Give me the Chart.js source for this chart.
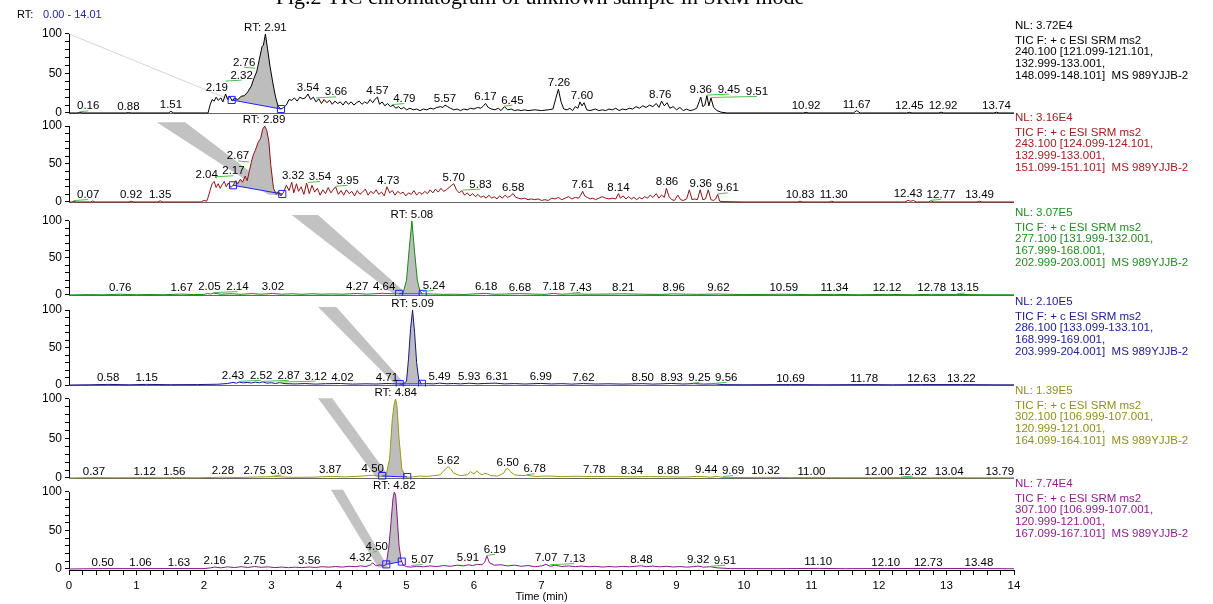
<!DOCTYPE html>
<html>
<head>
<meta charset="utf-8">
<script src="https://cdn.jsdelivr.net/npm/chart.js@4.4.1/dist/chart.umd.min.js"></script>
<style>
  html, body { margin: 0; padding: 0; background: #fff; }
</style>
</head>
<body>
<canvas id="myChart" width="1213" height="604"></canvas>
<script>
// ---- data: [time (min), relative abundance (%)] ----
const trace240 = [[0,0],[0.12,0],[0.16,0.8],[0.2,0],[0.84,0],[0.88,0.5],[0.92,0],[1.47,0],[1.51,2],[1.55,0],[2.06,0],[2.09,10],[2.12,17],[2.15,15],[2.18,20],[2.21,16],[2.25,19],[2.28,14],[2.32,24],[2.35,17],[2.38,21],[2.42,15],[2.45,19],[2.5,17],[2.55,21],[2.6,22],[2.65,27],[2.7,34],[2.74,44],[2.78,52],[2.82,68],[2.86,84],[2.88,86],[2.91,100],[2.94,82],[2.98,58],[3.02,38],[3.06,20],[3.1,8],[3.14,5],[3.18,7],[3.22,10],[3.26,17],[3.3,16],[3.34,19],[3.38,15],[3.42,20],[3.46,18],[3.5,19],[3.54,24],[3.58,17],[3.62,20],[3.66,14],[3.7,18],[3.74,12],[3.78,17],[3.82,13],[3.86,16],[3.9,11],[3.94,15],[3.98,12],[4.02,14],[4.06,10],[4.1,15],[4.14,11],[4.18,14],[4.22,10],[4.26,13],[4.3,15],[4.34,11],[4.38,14],[4.42,12],[4.46,17],[4.5,13],[4.54,18],[4.57,20],[4.6,11],[4.64,14],[4.68,9],[4.72,12],[4.76,8],[4.8,10],[4.84,6],[4.88,8],[4.92,5],[4.96,7],[5.0,4],[5.05,6],[5.1,4],[5.15,5],[5.2,3],[5.25,5],[5.3,4],[5.35,6],[5.4,5],[5.45,7],[5.5,8],[5.54,7],[5.57,10],[5.61,8],[5.65,6],[5.7,4],[5.75,5],[5.8,3],[5.85,5],[5.9,4],[5.95,6],[6.0,5],[6.05,7],[6.1,6],[6.14,9],[6.17,12],[6.21,7],[6.26,5],[6.31,4],[6.36,6],[6.4,3],[6.45,8],[6.5,4],[6.55,5],[6.6,3],[6.65,4],[6.7,3],[6.75,4],[6.8,3],[6.9,4],[7.0,3],[7.1,4],[7.17,5],[7.21,18],[7.25,30],[7.29,14],[7.33,5],[7.38,4],[7.42,6],[7.46,3],[7.5,8],[7.54,6],[7.57,14],[7.6,9],[7.63,13],[7.67,4],[7.72,3],[7.8,5],[7.85,3],[7.9,4],[7.95,3],[8.0,5],[8.05,4],[8.1,6],[8.15,3],[8.2,5],[8.25,4],[8.3,6],[8.35,5],[8.4,8],[8.45,6],[8.5,9],[8.55,7],[8.6,10],[8.65,8],[8.7,12],[8.74,7],[8.78,15],[8.82,9],[8.86,13],[8.9,6],[8.95,8],[9.0,4],[9.05,7],[9.1,3],[9.15,5],[9.2,3],[9.25,4],[9.3,6],[9.36,20],[9.39,8],[9.42,10],[9.45,22],[9.48,9],[9.51,19],[9.55,7],[9.6,3],[9.66,1],[9.75,0],[10.88,0],[10.92,0.8],[10.96,0],[11.62,0],[11.67,3],[11.72,0],[12.41,0],[12.45,0.8],[12.49,0],[12.88,0],[12.92,1],[12.96,0],[13.7,0],[13.74,1],[13.78,0],[14,0]];

const trace243 = [[0,0],[0.04,0],[0.07,1],[0.11,0],[0.32,0],[0.35,1.2],[0.39,0],[0.89,0],[0.92,1],[0.96,0],[1.31,0],[1.35,1.5],[1.39,0],[1.96,0],[2.0,2],[2.04,1],[2.06,6],[2.09,15],[2.12,24],[2.15,27],[2.18,19],[2.21,24],[2.24,18],[2.27,23],[2.3,27],[2.33,20],[2.36,25],[2.4,19],[2.43,22],[2.47,28],[2.5,24],[2.54,30],[2.57,26],[2.61,34],[2.64,28],[2.67,40],[2.7,52],[2.73,62],[2.76,68],[2.8,78],[2.84,84],[2.87,96],[2.9,100],[2.93,94],[2.96,80],[2.99,48],[3.03,18],[3.07,10],[3.1,14],[3.14,8],[3.18,13],[3.22,22],[3.26,15],[3.3,26],[3.33,12],[3.37,24],[3.4,14],[3.44,20],[3.48,10],[3.52,25],[3.56,11],[3.6,22],[3.64,13],[3.68,18],[3.72,9],[3.76,16],[3.8,11],[3.84,19],[3.88,12],[3.92,17],[3.95,20],[3.99,10],[4.03,15],[4.07,9],[4.11,16],[4.15,11],[4.19,14],[4.23,8],[4.27,15],[4.31,10],[4.35,13],[4.39,17],[4.43,9],[4.47,14],[4.51,11],[4.55,16],[4.59,10],[4.63,13],[4.67,8],[4.71,20],[4.75,12],[4.79,15],[4.83,9],[4.87,14],[4.91,11],[4.95,13],[4.99,8],[5.03,12],[5.07,10],[5.11,15],[5.15,9],[5.19,13],[5.23,10],[5.27,14],[5.31,11],[5.35,16],[5.39,12],[5.43,17],[5.47,13],[5.51,18],[5.55,14],[5.59,16],[5.63,19],[5.67,22],[5.7,24],[5.74,16],[5.78,12],[5.82,15],[5.86,9],[5.9,12],[5.94,8],[5.98,11],[6.02,7],[6.06,10],[6.1,6],[6.14,8],[6.18,5],[6.22,9],[6.26,5],[6.3,7],[6.34,4],[6.38,8],[6.42,5],[6.46,9],[6.5,6],[6.54,8],[6.58,11],[6.62,6],[6.66,5],[6.7,4],[6.75,5],[6.8,3],[6.85,4],[6.9,3],[6.95,4],[7.0,2],[7.05,3],[7.1,2],[7.15,5],[7.2,4],[7.25,6],[7.3,3],[7.35,5],[7.4,7],[7.45,4],[7.5,6],[7.55,5],[7.58,9],[7.61,14],[7.64,8],[7.68,6],[7.72,4],[7.76,5],[7.8,3],[7.85,5],[7.9,7],[7.95,5],[8.0,4],[8.05,5],[8.1,4],[8.14,11],[8.17,5],[8.21,8],[8.25,4],[8.29,7],[8.33,4],[8.37,6],[8.41,3],[8.45,6],[8.49,4],[8.53,7],[8.57,5],[8.61,9],[8.65,6],[8.7,11],[8.74,5],[8.78,9],[8.82,6],[8.85,18],[8.89,7],[8.93,3],[8.97,2],[9.02,9],[9.06,3],[9.1,2],[9.15,4],[9.19,16],[9.23,3],[9.27,4],[9.31,3],[9.35,16],[9.39,3],[9.43,4],[9.47,16],[9.51,3],[9.55,2],[9.58,4],[9.61,10],[9.64,1],[9.7,0.5],[10.0,0],[10.79,0],[10.83,1],[10.87,0],[11.26,0],[11.3,1],[11.34,0],[12.38,0],[12.43,2],[12.47,1],[12.51,2],[12.55,0],[12.73,0],[12.77,1.5],[12.81,0],[13.45,0],[13.49,1],[13.53,0],[14,0]];

const trace277 = [[0,0],[0.3,0.5],[0.5,0.2],[0.76,1],[1.0,0.3],[1.2,0.6],[1.4,0.3],[1.67,1.2],[1.85,0.5],[2.0,0.8],[2.05,2],[2.1,1.2],[2.14,2.5],[2.25,1.0],[2.4,1.6],[2.55,0.9],[2.7,1.8],[2.85,1.0],[3.02,2],[3.15,1.0],[3.3,1.6],[3.45,0.9],[3.6,1.6],[3.75,1.0],[3.9,1.4],[4.05,1.0],[4.27,2],[4.4,1.1],[4.5,1.5],[4.64,2.2],[4.8,1.6],[4.9,1.5],[4.95,3],[5.0,20],[5.04,62],[5.08,100],[5.12,58],[5.16,20],[5.2,5],[5.24,1.5],[5.4,1.2],[5.55,0.8],[5.7,1.0],[5.85,0.7],[6.0,1.4],[6.18,2],[6.3,0.9],[6.45,1.2],[6.68,1.8],[6.9,1.1],[7.05,0.8],[7.18,2],[7.3,1.0],[7.43,1.5],[7.7,1.0],[8.0,1.2],[8.21,1.5],[8.5,1.0],[8.75,0.7],[8.96,1.4],[9.3,0.8],[9.62,1.2],[10.0,0.5],[10.59,1],[11.0,0.4],[11.34,0.8],[11.7,0.3],[12.12,0.8],[12.5,0.3],[12.78,0.8],[13.15,0.7],[13.6,0.3],[14,0.3]];

const trace286 = [[0,0],[0.3,0.3],[0.58,0.8],[0.9,0.3],[1.15,0.8],[1.5,0.4],[1.9,0.6],[2.2,1.0],[2.35,2.0],[2.43,3.5],[2.48,2.4],[2.52,4.0],[2.58,2.8],[2.64,3.5],[2.7,2.6],[2.76,3.8],[2.82,3.0],[2.87,4.2],[2.93,2.5],[3.0,3.0],[3.06,2.0],[3.12,3.2],[3.2,1.8],[3.35,1.4],[3.5,1.9],[3.65,1.2],[3.8,1.7],[4.02,2.0],[4.2,1.2],[4.4,1.6],[4.55,1.3],[4.71,2.0],[4.85,1.5],[4.95,1.2],[5.0,5],[5.03,35],[5.06,75],[5.09,100],[5.12,70],[5.15,30],[5.18,8],[5.22,1.5],[5.3,1.8],[5.4,1.5],[5.49,2.5],[5.6,1.6],[5.7,2.0],[5.8,1.5],[5.93,2.4],[6.05,1.6],[6.15,2.0],[6.31,2.5],[6.45,1.5],[6.6,1.9],[6.75,1.3],[6.99,2.1],[7.15,1.4],[7.3,1.8],[7.45,1.2],[7.62,1.9],[7.8,1.3],[8.0,1.6],[8.2,1.2],[8.35,1.5],[8.5,1.8],[8.65,1.2],[8.8,1.6],[8.93,2.0],[9.1,1.3],[9.25,1.8],[9.4,1.2],[9.56,1.5],[9.7,0.5],[10.0,0.3],[10.69,0.6],[11.2,0.3],[11.78,0.6],[12.2,0.3],[12.63,0.6],[13.22,0.6],[13.7,0.3],[14,0.2]];

const trace302 = [[0,0],[0.37,0.5],[0.7,0.3],[1.12,0.5],[1.4,0.3],[1.56,0.5],[1.9,0.3],[2.28,1.0],[2.5,0.6],[2.75,1.2],[2.9,1.5],[3.03,1.8],[3.3,0.8],[3.6,1.0],[3.87,2.0],[4.1,1.5],[4.3,2.2],[4.5,3.5],[4.62,2.0],[4.7,4],[4.75,25],[4.79,75],[4.82,95],[4.84,100],[4.86,90],[4.89,50],[4.93,12],[4.98,2],[5.02,1],[5.1,1.5],[5.2,2.5],[5.3,2.0],[5.4,3.0],[5.5,4.0],[5.56,10],[5.6,13],[5.62,14],[5.65,12],[5.7,6],[5.8,3],[5.9,4],[5.95,8],[6.0,5],[6.04,9],[6.08,6],[6.12,4],[6.16,6],[6.2,5],[6.25,3],[6.35,2.5],[6.44,6],[6.47,11],[6.5,12],[6.54,8],[6.6,4],[6.7,3],[6.78,3.5],[6.9,2.0],[7.1,2.5],[7.3,1.8],[7.5,2.2],[7.78,1.8],[8.0,2.0],[8.34,1.5],[8.6,1.8],[8.88,1.5],[9.1,1.2],[9.3,2.0],[9.44,1.5],[9.5,1.0],[9.6,2.0],[9.69,0.8],[9.9,0.6],[10.32,0.8],[10.7,0.5],[11.0,0.5],[11.5,0.4],[12.0,0.4],[12.32,0.5],[12.7,0.3],[13.04,0.4],[13.4,0.3],[13.79,0.3],[14,0.2]];

const trace307 = [[0,0],[0.5,0.5],[1.06,0.5],[1.63,0.6],[2.0,0.5],[2.1,1.5],[2.16,2.5],[2.25,1.5],[2.35,2.8],[2.45,1.8],[2.55,3.0],[2.65,2.0],[2.75,3.2],[2.85,2.2],[2.95,2.8],[3.05,1.8],[3.15,2.5],[3.25,1.7],[3.35,2.4],[3.45,1.8],[3.56,2.6],[3.65,2.0],[3.75,3.0],[3.85,2.4],[3.95,3.2],[4.05,2.5],[4.15,3.5],[4.25,3.0],[4.32,4.0],[4.4,3.2],[4.46,5.0],[4.5,8.0],[4.55,4.0],[4.6,5.5],[4.66,4.0],[4.7,6.0],[4.74,30],[4.77,60],[4.8,92],[4.82,100],[4.84,95],[4.86,70],[4.89,30],[4.92,12],[4.95,5],[5.0,3.0],[5.07,2.5],[5.15,3.5],[5.25,2.8],[5.35,4.0],[5.45,3.2],[5.55,4.5],[5.65,3.5],[5.75,5.0],[5.85,4.0],[5.91,5.5],[5.98,4.5],[6.05,6.0],[6.12,5.5],[6.16,9],[6.19,17],[6.23,8],[6.3,5.0],[6.4,5.5],[6.5,4.0],[6.6,5.0],[6.7,3.5],[6.8,4.5],[6.9,3.0],[7.0,4.0],[7.07,6.0],[7.13,3.5],[7.2,5.0],[7.3,3.2],[7.4,4.0],[7.5,3.0],[7.6,3.8],[7.7,2.8],[7.8,3.5],[7.9,2.5],[8.0,3.2],[8.1,2.6],[8.2,3.4],[8.3,2.8],[8.4,3.6],[8.48,4.2],[8.55,3.0],[8.65,3.8],[8.75,2.8],[8.85,3.5],[8.95,2.6],[9.05,3.2],[9.15,2.4],[9.25,3.0],[9.32,3.8],[9.4,2.4],[9.5,3.0],[9.6,1.5],[9.8,0.5],[10.5,0.4],[11.1,0.8],[11.5,0.4],[12.1,0.6],[12.73,0.6],[13.48,0.6],[14,0.3]];

// labelled peak retention times
const peaks240 = [0.16, 0.88, 1.51, 2.19, 2.32, 2.76, 3.54, 3.66, 4.57, 4.79, 5.57, 6.17, 6.45, 7.26, 7.60, 8.76, 9.36, 9.45, 9.51, 10.92, 11.67, 12.45, 12.92, 13.74];
const peaks243 = [0.07, 0.92, 1.35, 2.04, 2.17, 2.67, 3.32, 3.54, 3.95, 4.73, 5.70, 5.83, 6.58, 7.61, 8.14, 8.86, 9.36, 9.61, 10.83, 11.30, 12.43, 12.77, 13.49];
const peaks277 = [0.76, 1.67, 2.05, 2.14, 3.02, 4.27, 4.64, 5.24, 6.18, 6.68, 7.18, 7.43, 8.21, 8.96, 9.62, 10.59, 11.34, 12.12, 12.78, 13.15];
const peaks286 = [0.58, 1.15, 2.43, 2.52, 2.87, 3.12, 4.02, 4.71, 5.49, 5.93, 6.31, 6.99, 7.62, 8.50, 8.93, 9.25, 9.56, 10.69, 11.78, 12.63, 13.22];
const peaks302 = [0.37, 1.12, 1.56, 2.28, 2.75, 3.03, 3.87, 4.50, 5.62, 6.50, 6.78, 7.78, 8.34, 8.88, 9.44, 9.69, 10.32, 11.00, 12.00, 12.32, 13.04, 13.79];
const peaks307 = [0.50, 1.06, 1.63, 2.16, 2.75, 3.56, 4.32, 4.50, 5.07, 5.91, 6.19, 7.07, 7.13, 8.48, 9.32, 9.51, 11.10, 12.10, 12.73, 13.48];

const rtValues = [2.91, 2.89, 5.08, 5.09, 4.84, 4.82];
const integStart = [2.41, 2.43, 4.89, 4.90, 4.64, 4.70];
const integEnd = [3.14, 3.16, 5.24, 5.23, 5.01, 4.93];
const nlValues = ['3.72E4', '3.16E4', '3.07E5', '2.10E5', '1.39E5', '7.74E4'];
const massLines = [
  ['240.100 [121.099-121.101,', '132.999-133.001,', '148.099-148.101]  MS 989YJJB-2'],
  ['243.100 [124.099-124.101,', '132.999-133.001,', '151.099-151.101]  MS 989YJJB-2'],
  ['277.100 [131.999-132.001,', '167.999-168.001,', '202.999-203.001]  MS 989YJJB-2'],
  ['286.100 [133.099-133.101,', '168.999-169.001,', '203.999-204.001]  MS 989YJJB-2'],
  ['302.100 [106.999-107.001,', '120.999-121.001,', '164.099-164.101]  MS 989YJJB-2'],
  ['307.100 [106.999-107.001,', '120.999-121.001,', '167.099-167.101]  MS 989YJJB-2']
];
const yTickValues = [0, 10, 20, 30, 40, 50, 60, 70, 80, 90, 100];
const yTickLabels = [0, 50, 100];

// ---- styling ----
const traces = [trace240, trace243, trace277, trace286, trace302, trace307];
const peakLists = [peaks240, peaks243, peaks277, peaks286, peaks302, peaks307];
const panelIds = ['y1', 'y2', 'y3', 'y4', 'y5', 'y6'];
const lineColors = ['#000000', '#8e1414', '#148a14', '#16168a', '#9a9a10', '#8a168a'];
const textColors = ['#000000', '#a02020', '#228b22', '#202090', '#8f8f1e', '#8e1e8e'];
const axisRange = [
  { min: -1.3, max: 117.7, weight: 94 },
  { min: -2.0, max: 115.8, weight: 89.5 },
  { min: -1.4, max: 123.6, weight: 92.5 },
  { min: -2.0, max: 118.7, weight: 90.5 },
  { min: -1.9, max: 115.8, weight: 93 },
  { min: -1.3, max: 116.2, weight: 90.5 }
];
// grey diagonal shading seen in each panel, [time, %]
const shadeBands = [
  [[0, 100], [2.41, 16]],
  [[1.30, 105], [1.72, 105], [3.16, 8], [2.95, 10]],
  [[3.30, 108], [3.69, 108], [5.00, 2], [4.80, 2]],
  [[3.69, 104], [3.96, 104], [4.98, 1], [4.83, 1]],
  [[3.69, 101], [3.90, 101], [4.75, 1], [4.55, 1]],
  [[3.88, 103], [4.06, 103], [4.73, 2], [4.58, 2]]
];
const FONT = '"Liberation Sans", Arial, sans-serif';

function interp(tr, t) {
  if (t <= tr[0][0]) return tr[0][1];
  for (let i = 1; i < tr.length; i++) {
    if (t <= tr[i][0]) {
      const f = (t - tr[i - 1][0]) / (tr[i][0] - tr[i - 1][0]);
      return tr[i - 1][1] + f * (tr[i][1] - tr[i - 1][1]);
    }
  }
  return tr[tr.length - 1][1];
}
function maxBetween(tr, a, b) {
  let m = Math.max(interp(tr, a), interp(tr, b));
  tr.forEach(p => { if (p[0] >= a && p[0] <= b && p[1] > m) m = p[1]; });
  return m;
}

// ---- datasets ----
const datasets = [];
traces.forEach((tr, i) => {
  const id = panelIds[i];
  datasets.push({
    data: tr.map(p => ({ x: p[0], y: p[1] })),
    yAxisID: id, borderColor: lineColors[i], borderWidth: 1,
    pointRadius: 0, fill: false, order: 2
  });
  const a = integStart[i], b = integEnd[i];
  const seg = [{ x: a, y: interp(tr, a) }]
    .concat(tr.filter(p => p[0] > a && p[0] < b).map(p => ({ x: p[0], y: p[1] })))
    .concat([{ x: b, y: interp(tr, b) }]);
  datasets.push({
    data: seg, yAxisID: id, borderWidth: 0, borderColor: 'rgba(0,0,0,0)',
    backgroundColor: '#bdbdbd', pointRadius: 0, fill: '+1', order: 3
  });
  datasets.push({
    data: [seg[0], seg[seg.length - 1]], yAxisID: id,
    borderColor: '#2020ff', borderWidth: 1, fill: false,
    pointStyle: 'rect', pointRadius: 5, pointBorderColor: '#2020ff',
    pointBackgroundColor: 'rgba(0,0,0,0)', pointBorderWidth: 1, order: 1
  });
});

// ---- scales ----
const scales = {
  x: {
    type: 'linear', position: 'bottom', min: 0, max: 14,
    afterFit: a => { a.height = 34; },
    grid: { drawOnChartArea: false, drawTicks: true, tickLength: 5, color: '#000' },
    border: { display: true, color: '#000', width: 1 },
    ticks: {
      stepSize: 0.2, maxTicksLimit: 200, autoSkip: false, maxRotation: 0, padding: 4,
      color: '#000', font: { family: FONT, size: 11.5 },
      callback: v => Math.abs(v - Math.round(v)) < 1e-6 ? String(Math.round(v)) : ''
    },
    title: { display: true, text: 'Time (min)', color: '#000', font: { family: FONT, size: 11 }, padding: 0 }
  }
};
panelIds.forEach((id, i) => {
  scales[id] = {
    type: 'linear', position: 'left', stack: 'panels',
    stackWeight: axisRange[i].weight, weight: 6 - i,
    min: axisRange[i].min, max: axisRange[i].max,
    afterBuildTicks: axis => { axis.ticks = yTickValues.map(v => ({ value: v })); },
    afterFit: a => { a.width = 69; },
    grid: { drawOnChartArea: false, drawTicks: true, tickLength: 4, color: '#000' },
    border: { display: false },
    ticks: {
      autoSkip: false, padding: 3, color: '#000', font: { family: FONT, size: 12 },
      callback: v => yTickLabels.includes(v) ? String(v) : ''
    }
  };
});

// ---- annotations: labels, RT marks, side text ----
const annotate = {
  id: 'annotate',
  beforeDatasetsDraw(chart) {
    const ctx = chart.ctx, x = chart.scales.x, area = chart.chartArea;
    ctx.save();
    panelIds.forEach((id, i) => {
      const y = chart.scales[id];
      const band = shadeBands[i];
      ctx.beginPath();
      band.forEach((p, k) => {
        const px = x.getPixelForValue(p[0]), py = y.getPixelForValue(p[1]);
        if (k) ctx.lineTo(px, py); else ctx.moveTo(px, py);
      });
      if (band.length > 2) {
        ctx.closePath();
        ctx.fillStyle = '#c2c2c2';
        ctx.fill();
      } else {
        ctx.strokeStyle = '#d4d4d4';
        ctx.lineWidth = 1;
        ctx.stroke();
      }
      if (i < 5) {
        const y0 = Math.round(y.getPixelForValue(0)) + 0.5;
        ctx.strokeStyle = '#666';
        ctx.lineWidth = 1;
        ctx.beginPath();
        ctx.moveTo(area.left, y0);
        ctx.lineTo(area.right, y0);
        ctx.stroke();
      }
    });
    ctx.restore();
  },
  afterDatasetsDraw(chart) {
    const ctx = chart.ctx, x = chart.scales.x, area = chart.chartArea;
    ctx.save();
    ctx.font = '11.5px ' + FONT;
    panelIds.forEach((id, i) => {
      const y = chart.scales[id];
      const tr = traces[i];
      const placed = [];
      ctx.textAlign = 'center';
      ctx.textBaseline = 'alphabetic';
      ctx.fillStyle = '#000';

      // y axis line 0..100
      const lx = Math.round(area.left) + 0.5;
      ctx.strokeStyle = '#000';
      ctx.lineWidth = 1;
      ctx.beginPath();
      ctx.moveTo(lx, y.getPixelForValue(0));
      ctx.lineTo(lx, y.getPixelForValue(100));
      ctx.stroke();

      // RT label of main peak
      const rt = rtValues[i];
      const rtText = 'RT: ' + rt.toFixed(2);
      const rw = ctx.measureText(rtText).width;
      const rx = x.getPixelForValue(rt);
      const rb = y.getPixelForValue(maxBetween(tr, rt - 0.03, rt + 0.03)) - 3;
      ctx.fillText(rtText, rx, rb);
      placed.push({ l: rx - rw / 2 - 2, r: rx + rw / 2 + 2, t: rb - 10, b: rb });

      peakLists[i].forEach(t => {
        const text = t.toFixed(2);
        const w = ctx.measureText(text).width;
        const px = x.getPixelForValue(t);
        let cx = Math.max(px, area.left + 8 + w / 2);
        if (t >= integStart[i] && t < rt) cx = px - w / 2;
        else if (t > rt && t <= integEnd[i] + 0.15) cx = px + w / 2;
        let bottom = 0;
        for (let k = 0; k < 80; k++) {
          const a = Math.min(t - 0.03, x.getValueForPixel(cx - w / 2));
          const b = Math.max(t + 0.03, x.getValueForPixel(cx + w / 2));
          bottom = y.getPixelForValue(maxBetween(tr, a, b)) - 3;
          const box = { l: cx - w / 2 - 2, r: cx + w / 2 + 2, t: bottom - 10, b: bottom };
          if (!placed.some(o => o.l < box.r && box.l < o.r && o.t < box.b && box.t < o.b)) {
            placed.push(box);
            break;
          }
          cx += 2;
        }
        if (Math.abs(cx - px) > 3) {
          ctx.strokeStyle = '#55bb55';
          ctx.beginPath();
          ctx.moveTo(px, bottom + 2.5);
          ctx.lineTo(cx, bottom + 1.5);
          ctx.stroke();
        }
        ctx.fillStyle = '#000';
        ctx.fillText(text, cx, bottom);
      });

      // side description
      ctx.textAlign = 'left';
      ctx.textBaseline = 'middle';
      ctx.fillStyle = textColors[i];
      const tx = area.right + 1;
      const y100 = y.getPixelForValue(100);
      ctx.fillText('NL: ' + nlValues[i], tx, y100 - 8);
      ['TIC F: + c ESI SRM ms2'].concat(massLines[i]).forEach((s, k) => {
        ctx.fillText(s, tx, y100 + 6.5 + k * 11.7);
      });
    });

    // header texts
    ctx.textAlign = 'left';
    ctx.textBaseline = 'middle';
    ctx.font = '11px ' + FONT;
    ctx.fillStyle = '#000';
    ctx.fillText('RT:', 17, 15);
    ctx.fillStyle = '#2424b0';
    ctx.fillText('0.00 - 14.01', 43, 15);
    ctx.fillStyle = '#000';
    ctx.textAlign = 'center';
    ctx.textBaseline = 'alphabetic';
    ctx.font = '22px "Liberation Serif", "Times New Roman", serif';
    ctx.fillText('Fig.2 TIC chromatogram of unknown sample in SRM mode', 540, 4);
    ctx.restore();
  }
};

Chart.defaults.font.family = FONT;
new Chart(document.getElementById('myChart'), {
  type: 'line',
  data: { datasets: datasets },
  options: {
    responsive: false,
    animation: false,
    events: [],
    layout: { padding: { left: 0, right: 199, top: 20, bottom: 0 } },
    elements: { line: { tension: 0 } },
    plugins: { legend: { display: false }, tooltip: { enabled: false } },
    scales: scales
  },
  plugins: [annotate]
});
</script>
</body>
</html>
